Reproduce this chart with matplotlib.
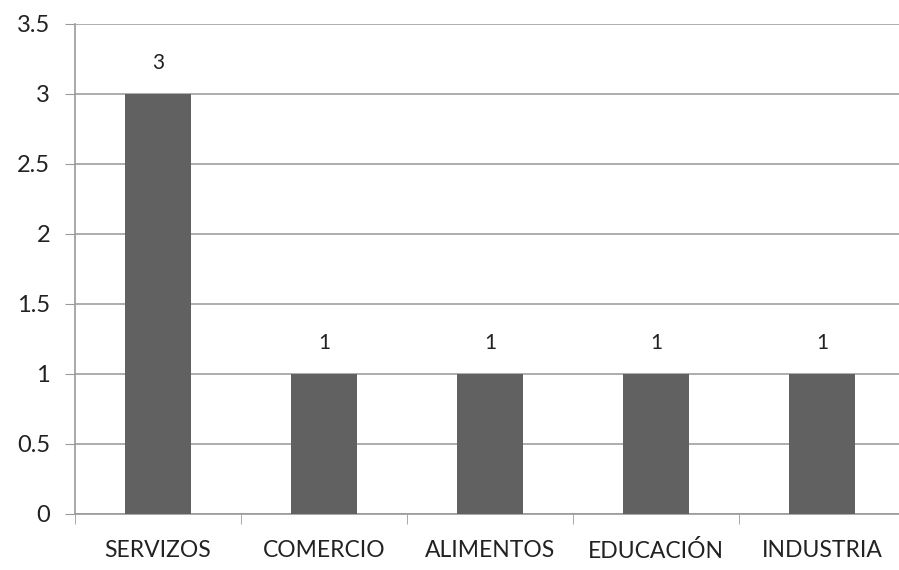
import matplotlib
matplotlib.use("Agg")
from matplotlib import pyplot as plt
import numpy as np

categories = ["SERVIZOS", "COMERCIO", "ALIMENTOS", "EDUCACIÓN", "INDUSTRIA"]
values = [3, 1, 1, 1, 1]
yticks = [0, 0.5, 1, 1.5, 2, 2.5, 3, 3.5]

plt.rcParams["font.family"] = ["Lato", "DejaVu Sans"]

fig = plt.figure(figsize=(8.99, 5.70), dpi=100)
ax = fig.add_axes([75/899, 56/570, 830/899, 490/570])

x = np.arange(len(categories))
bars = ax.bar(x, values, width=0.4, color="#616161", zorder=3)
for xi, v in zip(x, values):
    ax.annotate(str(v), (xi, v), xytext=(0, 22), textcoords="offset points",
                ha="center", va="center", fontsize=15, color="#222222")

ax.set_xlim(-0.5, len(categories) - 0.5)
ax.set_ylim(0, 3.5)
ax.set_yticks(yticks)
ax.set_yticklabels([f"{t:g}" for t in yticks], fontsize=17, color="#222222")
ax.set_xticks(x)
ax.set_xticklabels(categories, fontsize=16.5, color="#222222")
ax.set_xticks(np.arange(len(categories) + 1) - 0.5, minor=True)
ax.tick_params(axis="x", which="major", length=0, pad=19)
ax.tick_params(axis="x", which="minor", length=7, color="#9a9a9a", direction="out")
ax.tick_params(axis="y", length=7, color="#9a9a9a", pad=11)

ax.yaxis.grid(True, color="#a0a0a0", linewidth=1.2, zorder=0)
for s in ["top", "right"]:
    ax.spines[s].set_visible(False)
for s in ["left", "bottom"]:
    ax.spines[s].set_color("#9a9a9a")
    ax.spines[s].set_linewidth(1.2)

fig.savefig("out.png", dpi=100)
